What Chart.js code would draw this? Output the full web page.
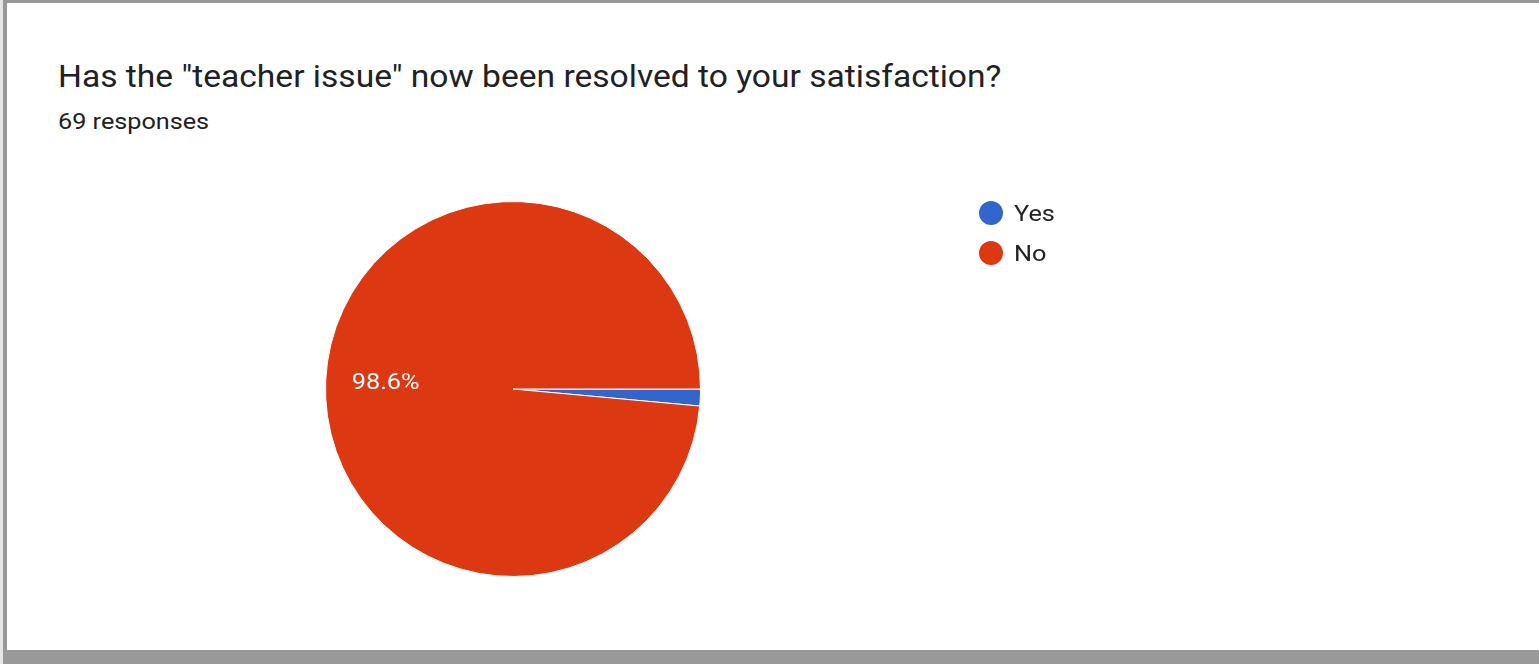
<!DOCTYPE html>
<html>
<head>
<meta charset="utf-8">
<script src="https://cdn.jsdelivr.net/npm/chart.js@4/dist/chart.umd.min.js"></script>
<style>
  html, body { margin: 0; padding: 0; background: #fff; }
  body { width: 1539px; height: 664px; position: relative; overflow: hidden; font-family: Roboto, Arial, sans-serif; }
  .frame-top { position: absolute; left: 0; top: 0; width: 1539px; height: 3px; background: #999; }
  .frame-left-outer { position: absolute; left: 0; top: 0; width: 3px; height: 664px; background: #e6e6e6; }
  .frame-left { position: absolute; left: 3px; top: 0; width: 4px; height: 664px; background: #999; }
  .frame-bottom { position: absolute; left: 3px; top: 650px; width: 1536px; height: 14px; background: #999; }
  .title, .subtitle { position: absolute; left: 58px; color: #202124; white-space: nowrap; transform-origin: 0 0; }
  .title { top: 57px; font-size: 31px; line-height: 40px; transform: scaleX(1.083); }
  .subtitle { top: 106px; font-size: 22.5px; line-height: 30px; transform: scaleX(1.12); }
  #chart { position: absolute; left: 0; top: 0; }
</style>
</head>
<body>
<div class="frame-top"></div>
<div class="frame-left-outer"></div>
<div class="frame-left"></div>
<div class="frame-bottom"></div>
<div class="title">Has the "teacher issue" now been resolved to your satisfaction?</div>
<div class="subtitle">69 responses</div>
<canvas id="chart" width="1539" height="650"></canvas>
<script>
const answers = ['Yes', 'No'];
const counts = [1, 68];
const sliceColors = ['#3366cc', '#dc3912'];

const total = counts.reduce((a, b) => a + b, 0);

// text drawn slightly stretched sideways, anchored at (x, y)
function wideText(ctx, text, x, y, stretch) {
  ctx.save();
  ctx.translate(x, y);
  ctx.scale(stretch, 1);
  ctx.fillText(text, 0, 0);
  ctx.restore();
}

// legend and percentage labels drawn the way Google Forms does it
const formsDecor = {
  id: 'formsDecor',
  afterDraw(chart) {
    const ctx = chart.ctx;
    const meta = chart.getDatasetMeta(0);

    ctx.save();
    ctx.font = '22px Roboto, Arial, sans-serif';
    ctx.fillStyle = '#ffffff';
    ctx.textAlign = 'center';
    ctx.textBaseline = 'middle';
    meta.data.forEach((arc, i) => {
      const pct = counts[i] / total * 100;
      if (pct < 5) return;
      const mid = (arc.startAngle + arc.endAngle) / 2;
      const r = arc.outerRadius * 0.68;
      wideText(ctx, pct.toFixed(1) + '%', arc.x + Math.cos(mid) * r, arc.y + Math.sin(mid) * r, 1.15);
    });

    const lx = 991, ly = 213;
    ctx.textAlign = 'left';
    ctx.font = '22px Roboto, Arial, sans-serif';
    answers.forEach((name, i) => {
      const y = ly + i * 40;
      ctx.beginPath();
      ctx.arc(lx, y, 12, 0, Math.PI * 2);
      ctx.fillStyle = sliceColors[i];
      ctx.fill();
      ctx.fillStyle = '#222222';
      wideText(ctx, name, lx + 23, y + 2, 1.15);
    });
    ctx.restore();
  }
};

new Chart(document.getElementById('chart'), {
  type: 'pie',
  data: {
    labels: answers,
    datasets: [{
      data: counts,
      backgroundColor: sliceColors,
      borderColor: '#ffffff',
      borderWidth: 1
    }]
  },
  options: {
    responsive: false,
    animation: false,
    rotation: 90,
    layout: { padding: { left: 325, right: 838, top: 201, bottom: 73 } },
    plugins: {
      legend: { display: false },
      tooltip: { enabled: false }
    }
  },
  plugins: [formsDecor]
});
</script>
</body>
</html>
